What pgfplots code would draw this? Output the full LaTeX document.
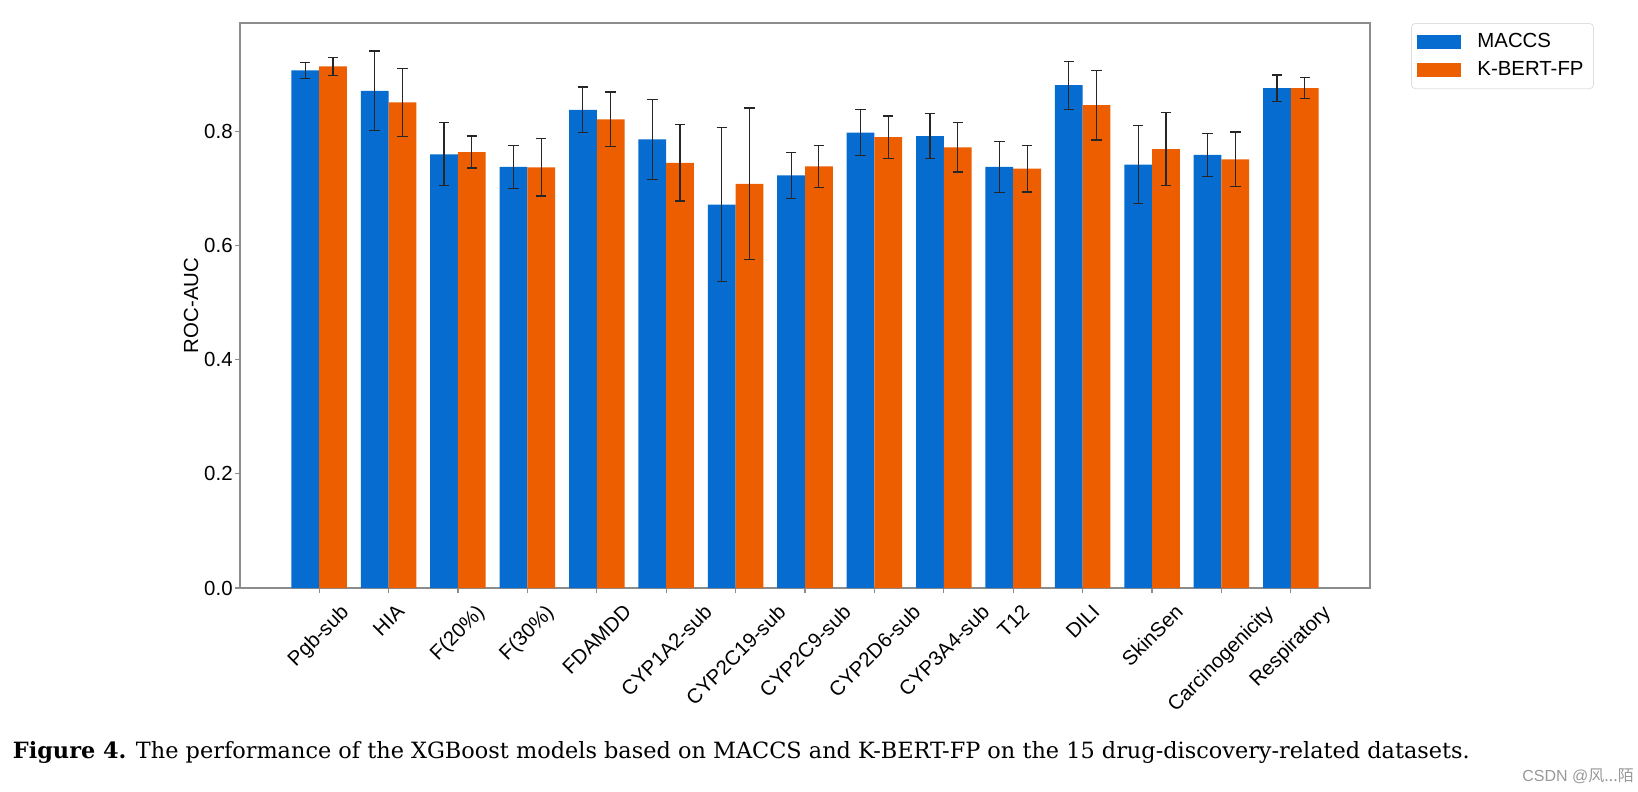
\documentclass[border=0pt]{standalone}
\usepackage{fontspec}
\setmainfont{Liberation Sans}
\newfontfamily\capfont{DejaVu Serif}
\newfontfamily\cjk{Noto Sans CJK SC}
\usepackage{graphicx}
\usepackage{pgfplots}
\pgfplotsset{compat=1.18}
\definecolor{cblue}{RGB}{6,108,207}
\definecolor{corange}{RGB}{237,94,0}
\definecolor{framegray}{RGB}{140,140,140}
\newcommand{\tfont}{\fontsize{10.2}{11.5}\selectfont}
\begin{document}
\begin{tikzpicture}
\path[use as bounding box] (0,0) rectangle (819pt,-396pt);
\begin{axis}[
  at={(120pt,-294pt)}, anchor=south west,
  scale only axis, width=565pt, height=282.5pt,
  xmin=-1.14, xmax=15.14, ymin=0, ymax=0.99,
  ybar, bar width=0.4,
  axis line style={framegray, line width=0.6pt},
  tick style={framegray, line width=0.6pt},
  major tick length=2.5pt, tick align=outside,
  xtick pos=left, ytick pos=left,
  xtick={0,...,14},
  xticklabels={\rotatebox{45}{Pgb-sub},\rotatebox{45}{HIA},\rotatebox{45}{F(20\%)},\rotatebox{45}{F(30\%)},\rotatebox{45}{FDAMDD},\rotatebox{45}{CYP1A2-sub},\rotatebox{45}{CYP2C19-sub},\rotatebox{45}{CYP2C9-sub},\rotatebox{45}{CYP2D6-sub},\rotatebox{45}{CYP3A4-sub},\rotatebox{45}{T12},\rotatebox{45}{DILI},\rotatebox{45}{SkinSen},\rotatebox{45}{Carcinogenicity},\rotatebox{45}{Respiratory}},
  xticklabel style={anchor=north, inner sep=0pt, yshift=-5pt, font=\tfont},
  ytick={0,0.2,0.4,0.6,0.8},
  yticklabel style={font=\tfont, inner sep=1pt, /pgf/number format/.cd, fixed, fixed zerofill, precision=1, assume math mode=true},
  ylabel={ROC-AUC},
  every axis y label/.style={at={(axis description cs:0,0.5)}, xshift=-24.5pt, rotate=90, anchor=center, font=\tfont},
  legend style={at={(1,1)}, anchor=north west, xshift=20.5pt, draw=gray!25, rounded corners=2pt, font=\tfont, inner xsep=3pt, inner ysep=3pt, row sep=1.5pt, cells={anchor=west}},
  error bars/y dir=both, error bars/y explicit,
  error bars/error bar style={draw=black!85, line width=0.6pt},
  error bars/error mark options={draw=black!85, rotate=90, mark size=2.6pt, line width=0.6pt},
]
\addplot[fill=cblue, draw=none, bar shift=-0.2,
  legend image code/.code={\fill[cblue, sharp corners] (0pt,-3.6pt) rectangle (22pt,3.6pt); \path (28pt,0pt);}]
coordinates {
(0,0.907) +- (0,0.014)
(1,0.871) +- (0,0.070)
(2,0.760) +- (0,0.055)
(3,0.738) +- (0,0.038)
(4,0.838) +- (0,0.040)
(5,0.786) +- (0,0.070)
(6,0.672) +- (0,0.135)
(7,0.723) +- (0,0.040)
(8,0.798) +- (0,0.040)
(9,0.792) +- (0,0.040)
(10,0.738) +- (0,0.045)
(11,0.881) +- (0,0.042)
(12,0.742) +- (0,0.068)
(13,0.759) +- (0,0.038)
(14,0.876) +- (0,0.023)
};
\addlegendentry{MACCS}
\addplot[fill=corange, draw=none, bar shift=0.2,
  legend image code/.code={\fill[corange, sharp corners] (0pt,-3.6pt) rectangle (22pt,3.6pt); \path (28pt,0pt);}]
coordinates {
(0,0.914) +- (0,0.016)
(1,0.851) +- (0,0.060)
(2,0.764) +- (0,0.028)
(3,0.737) +- (0,0.050)
(4,0.821) +- (0,0.048)
(5,0.745) +- (0,0.067)
(6,0.708) +- (0,0.133)
(7,0.739) +- (0,0.037)
(8,0.790) +- (0,0.037)
(9,0.772) +- (0,0.043)
(10,0.735) +- (0,0.041)
(11,0.846) +- (0,0.061)
(12,0.769) +- (0,0.064)
(13,0.751) +- (0,0.048)
(14,0.876) +- (0,0.018)
};
\addlegendentry{K-BERT-FP}
\end{axis}
\node[anchor=west, inner sep=0pt, font=\capfont\fontsize{11.2}{13}\selectfont] at (6.25pt,-376pt) {\textbf{Figure 4.} The performance of the XGBoost models based on MACCS and K-BERT-FP on the 15 drug-discovery-related datasets.};
\node[anchor=west, inner sep=0pt, text=gray!80, font=\fontsize{8}{9}\selectfont] at (761pt,-388pt) {CSDN @{\cjk 风...陌}};
\end{tikzpicture}
\end{document}
